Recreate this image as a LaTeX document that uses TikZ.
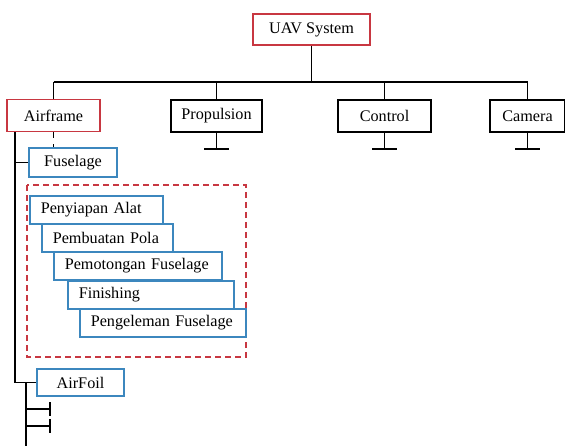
\documentclass[tikz,border=0pt]{standalone}
\usepackage{fontspec}
\setmainfont{Liberation Serif}
\definecolor{boxred}{RGB}{200,55,65}
\definecolor{boxblue}{RGB}{60,135,190}
\begin{document}
\begin{tikzpicture}[x=0.5pt,y=-0.5pt,line width=0.75pt,
  font=\fontsize{8.1}{9}\selectfont,
  blok/.style={draw,rectangle,inner sep=0pt,minimum height=16pt},
  topblok/.style={blok,draw=boxred},
  subblok/.style={blok,draw=boxblue,minimum height=14pt},
  stepblok/.style={draw=boxblue,rectangle,anchor=north west,inner ysep=0pt,
    inner xsep=5.5pt,minimum height=14pt,align=left}]
\useasboundingbox (0,0) rectangle (565,446);
\node[topblok,minimum width=58.5pt,minimum height=15.5pt] (uav) at (311.5,29.5) {UAV System};
\node[topblok,minimum width=46.5pt] (airframe) at (53.5,115.5) {Airframe};
\node[blok,minimum width=45.5pt] (prop) at (216.5,116) {Propulsion};
\node[blok,minimum width=46.5pt] (ctrl) at (384.5,116) {Control};
\node[blok,minimum width=37.5pt] (cam) at (527.5,116) {Camera};
\node[subblok,minimum width=44pt,minimum height=14.5pt] (fus) at (73,162.5) {Fuselage};
\node[subblok,minimum width=43.5pt,minimum height=13.5pt] (foil) at (80.5,382.5) {AirFoil};
\draw[boxred,dashed,dash pattern=on 3pt off 2pt] (27,185) rectangle (246,357);
\foreach \x/\y/\w/\t/\n in {29/195/55.5/Penyiapan Alat/s1,41/223/54.5/Pembuatan Pola/s2,
  53/251/73/Pemotongan Fuselage/s3,67/280/72/Finishing/s4,79/308/72/Pengeleman Fuselage/s5}
\node[stepblok,text width=\w pt] (\n) at (\x,\y) {\t};
\coordinate (bus) at (0,82);
\draw (uav.south) -- (uav.south |- bus);
\draw (airframe.north |- bus) -- (cam.north |- bus);
\foreach \n in {airframe,prop,ctrl,cam}
\draw (\n.north |- bus) -- (\n.north);
\foreach \n in {prop,ctrl,cam}
\draw (\n.south) -- ++(0,16) ++(-12.5,0) -- ++(25,0);
\draw[dashed] (airframe.south) -- (airframe.south |- fus.north);
\coordinate (spine) at (15,132);
\draw (spine) |- (foil.west);
\draw (spine |- fus.west) -- (fus.west);
\coordinate (foilend) at (26,446);
\draw (foilend |- foil.west) -- (foilend);
\foreach \y in {409,426}
\draw (26,\y) -- (50,\y) (50,\y-7) -- (50,\y+7);
\end{tikzpicture}
\end{document}
